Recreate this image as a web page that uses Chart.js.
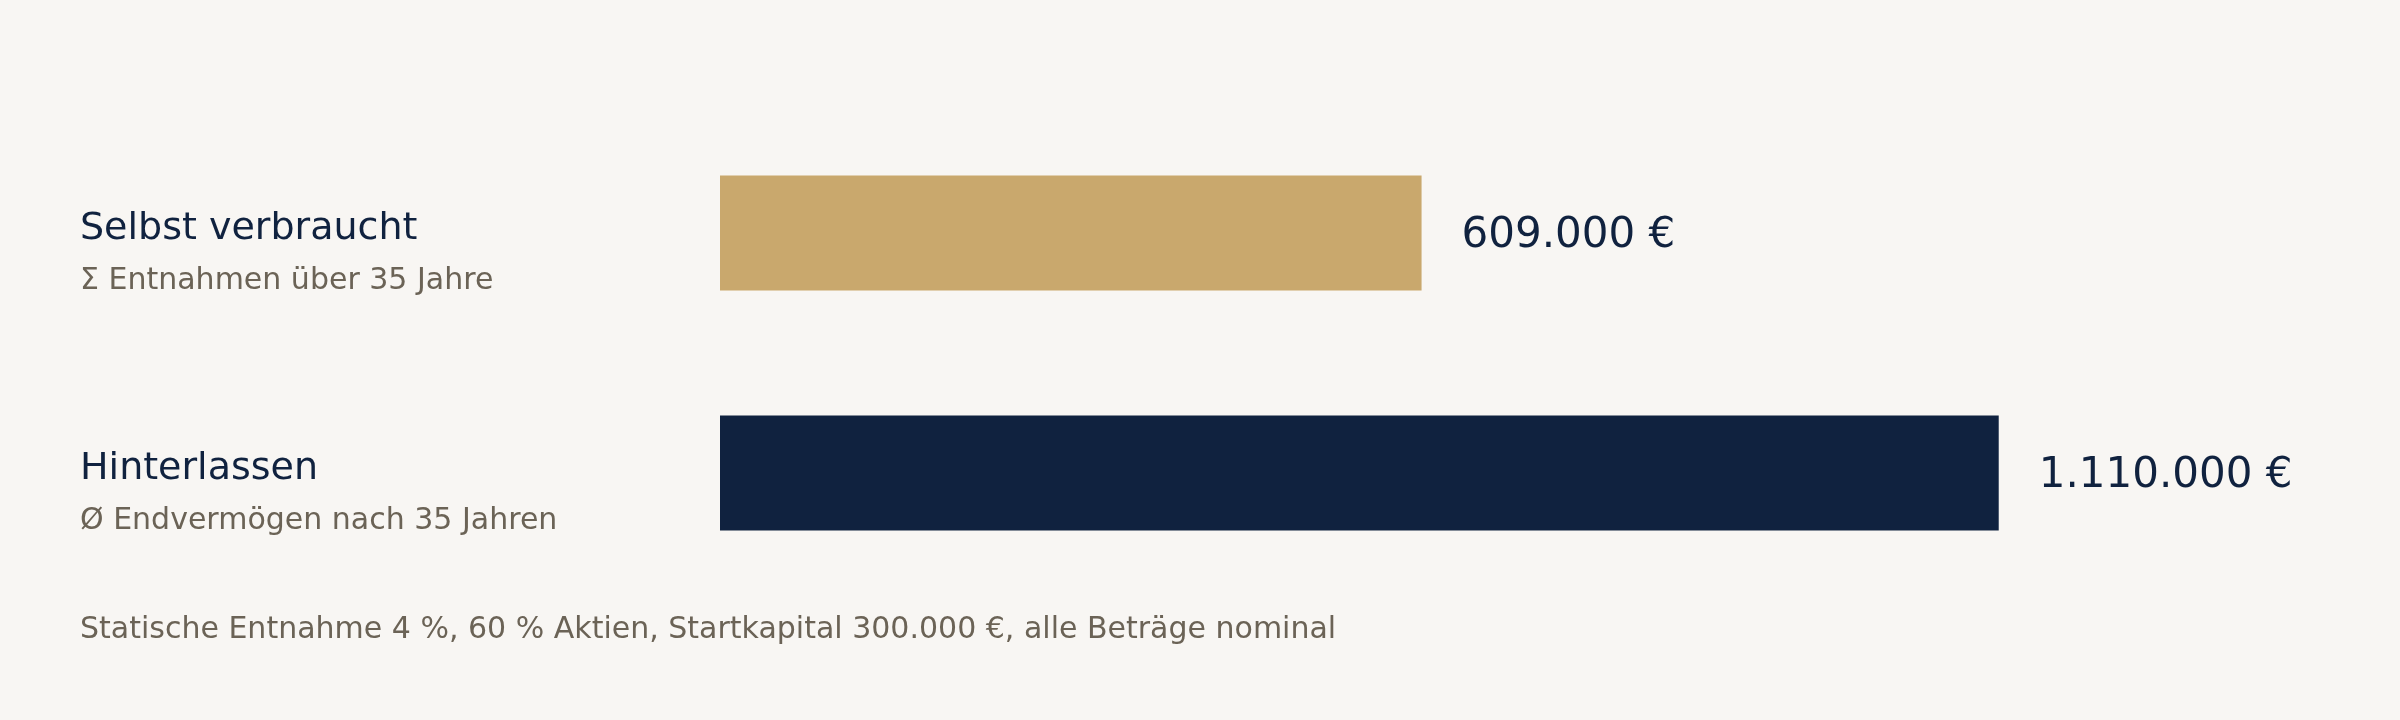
<!DOCTYPE html>
<html>
<head>
<meta charset="utf-8">
<script src="https://cdn.jsdelivr.net/npm/chart.js@4/dist/chart.umd.min.js"></script>
<style>
  html, body { margin: 0; padding: 0; background: #F8F6F3; }
  #wrap { width: 2400px; height: 720px; position: relative; }
</style>
</head>
<body>
<div id="wrap"><canvas id="c" width="2400" height="720"></canvas></div>
<script>
const categories = ["Selbst verbraucht", "Hinterlassen"];
const subLabels = ["Σ Entnahmen über 35 Jahre", "Ø Endvermögen nach 35 Jahren"];
const values = [609000, 1110000];
const valueLabels = ["609.000 €", "1.110.000 €"];
const barColors = ["#C9A86D", "#10223F"];
const footnote = "Statische Entnahme 4 %, 60 % Aktien, Startkapital 300.000 €, alle Beträge nominal";

const FONT = "'DejaVu Sans', Verdana, sans-serif";

const labelPlugin = {
  id: 'labels',
  afterDatasetsDraw(chart) {
    const ctx = chart.ctx;
    const meta = chart.getDatasetMeta(0);
    ctx.save();
    ctx.textBaseline = 'middle';
    ctx.textAlign = 'left';
    meta.data.forEach((bar, i) => {
      ctx.fillStyle = '#10223F';
      ctx.font = '42px ' + FONT;
      ctx.fillText(valueLabels[i], bar.x + 40, bar.y + 3);
      ctx.font = '38px ' + FONT;
      ctx.fillStyle = '#10223F';
      ctx.fillText(categories[i], 80, bar.y - 4);
      ctx.font = '30px ' + FONT;
      ctx.fillStyle = '#6B6356';
      ctx.fillText(subLabels[i], 80, bar.y + 48);
    });
    ctx.font = '30px ' + FONT;
    ctx.fillStyle = '#6B6356';
    ctx.fillText(footnote, 80, 630);
    ctx.restore();
  }
};

new Chart(document.getElementById('c'), {
  type: 'bar',
  data: {
    labels: categories,
    datasets: [{
      data: values,
      backgroundColor: barColors,
      borderWidth: 0,
      barPercentage: 1,
      categoryPercentage: 0.48
    }]
  },
  options: {
    indexAxis: 'y',
    responsive: false,
    animation: false,
    devicePixelRatio: 1,
    layout: { padding: { left: 720, right: 240, top: 113, bottom: 127 } },
    plugins: { legend: { display: false }, tooltip: { enabled: false } },
    scales: {
      x: { display: false, min: 0, max: 1250000 },
      y: { display: false }
    }
  },
  plugins: [labelPlugin]
});
</script>
</body>
</html>
